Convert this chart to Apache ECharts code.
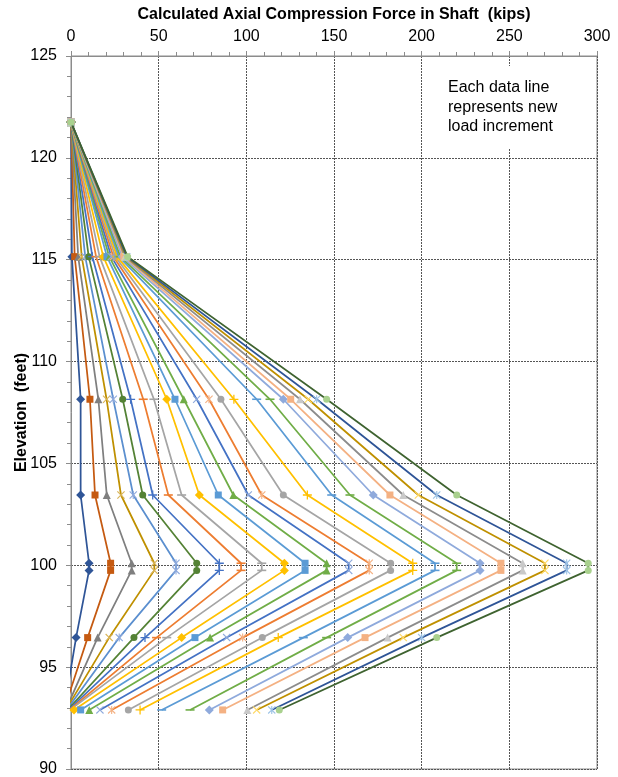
<!DOCTYPE html>
<html>
<head>
<meta charset="utf-8">
<script src="https://cdn.jsdelivr.net/npm/echarts@6/dist/echarts.min.js"></script>
<style>
html,body{margin:0;padding:0;background:#fff;}
#chart{width:618px;height:777px;}
</style>
</head>
<body>
<div id="chart"></div>
<script>
// Elevations (feet) of the data points, top to bottom (two points bracket elev. 100)
const elevations = [121.75, 115.15, 108.15, 103.45, 100.1, 99.75, 96.45, 92.9];

// Axial force (kips) of each load increment (24 series) at each elevation
const forceAt121_75 = [0,0,0,0,0,0,0,0,0,0,0,0,0,0,0,0,0,0,0,0,0,0,0,0];
const forceAt115_15 = [0.5,2.1,4.1,6.1,8.1,10.1,12.2,14.3,16.3,18.4,20.5,21.8,23.0,24.2,25.3,26.3,27.3,28.2,29.2,30.1,30.7,31.3,31.8,32.3];
const forceAt108_15 = [5.5,10.8,15.6,20.3,24.1,29.5,34.0,41.2,47.3,54.6,59.3,64.3,71.7,78.7,85.5,92.9,105.9,113.5,121.1,125.3,130.6,135.3,140.1,145.8];
const forceAt103_45 = [5.5,13.7,20.4,28.5,35.5,40.9,46.6,55.5,63.1,73.2,84.0,92.6,101.1,108.8,121.1,134.8,148.7,159.1,172.4,181.9,189.5,198.1,208.6,220.0];
const forceAt100_1  = [10.3,22.6,34.6,47.5,59.9,71.7,84.6,97.0,108.8,121.7,133.5,145.8,158.4,170.1,182.3,194.9,207.6,220.0,233.3,245.2,257.6,270.3,282.7,295.0];
const forceAt99_75  = [10.3,22.6,34.6,47.5,59.9,71.7,84.6,97.0,108.8,121.7,133.5,145.8,158.4,170.1,182.3,194.9,207.6,220.0,233.3,245.2,257.6,270.3,282.7,295.0];
const forceAt96_45  = [2.9,9.5,15.2,21.8,27.5,35.9,42.2,48.8,54.6,63.1,70.7,79.3,88.8,97.9,109.1,118.2,132.5,145.8,157.8,167.7,180.6,189.5,200.0,208.6];
const forceAt92_9   = [-4.0,-4.0,-3.0,-3.0,-2.5,-2.0,-1.5,-1.0,-0.5,1.7,5.5,10.4,16.5,23.2,32.7,39.4,51.7,67.9,78.9,86.5,100.6,105.9,114.5,118.8];

const forceByElevation = [forceAt121_75, forceAt115_15, forceAt108_15, forceAt103_45, forceAt100_1, forceAt99_75, forceAt96_45, forceAt92_9];

const xTicks = [0, 50, 100, 150, 200, 250, 300];
const yTicks = [90, 95, 100, 105, 110, 115, 120, 125];

const lineColors = ['#2F5597','#C55A11','#7F7F7F','#BF9000','#5B8FCF','#548235',
                    '#4472C4','#ED7D31','#A5A5A5','#FFC000','#5B9BD5','#70AD47',
                    '#4472C4','#ED7D31','#A5A5A5','#FFC000','#5B9BD5','#70AD47',
                    '#8FAADC','#F4B183','#8C8C8C','#BF9000','#2F5597','#3F6330'];
const markerColors = ['#2F5597','#C55A11','#7F7F7F','#D9B45A','#8FAADC','#548235',
                      '#4472C4','#ED7D31','#A5A5A5','#FFC000','#5B9BD5','#70AD47',
                      '#8FAADC','#F4B183','#A5A5A5','#FFC000','#5B9BD5','#70AD47',
                      '#8FAADC','#F4B183','#C9C9C9','#FFD966','#9DC3E6','#A9D18E'];

const X_PATH = 'path://M0,1L1,0L5,4L9,0L10,1L6,5L10,9L9,10L5,6L1,10L0,9L4,5Z';
const STAR_PATH = 'path://M0,1L1,0L5,4L9,0L10,1L6,5L10,9L9,10L5,6L1,10L0,9L4,5Z M4.3,0H5.7V10H4.3Z';
const PLUS_PATH = 'path://M4.3,0H5.7V4.3H10V5.7H5.7V10H4.3V5.7H0V4.3H4.3Z';
const DASH_PATH = 'path://M0,0H10V10H0Z';
const markerCycle = [
  {s:'diamond', size:9},
  {s:'rect', size:7},
  {s:'triangle', size:8},
  {s:X_PATH, size:8},
  {s:STAR_PATH, size:8},
  {s:'circle', size:7},
  {s:PLUS_PATH, size:9},
  {s:DASH_PATH, size:[9,1.6]},
  {s:DASH_PATH, size:[9,1.6]}
];

const series = forceAt100_1.map((_, i) => {
  const m = markerCycle[i % markerCycle.length];
  return {
    type: 'line',
    name: 'Increment ' + (i + 1),
    data: elevations.map((e, j) => [forceByElevation[j][i], e]),
    symbol: m.s,
    symbolSize: m.size,
    showSymbol: true,
    clip: true,
    lineStyle: {color: lineColors[i], width: 1.75},
    itemStyle: {color: markerColors[i], borderWidth: 0},
    emphasis: {disabled: true},
    z: 2 + i * 0.01
  };
});

const FONT = 'Liberation Sans, Arial, sans-serif';
const chart = echarts.init(document.getElementById('chart'), null, {renderer: 'canvas'});
chart.setOption({
  animation: false,
  backgroundColor: '#fff',
  textStyle: {fontFamily: FONT},
  grid: {left: 71, top: 56, width: 526, height: 713, outerBoundsMode: 'none', containLabel: false,
         show: true, borderColor: '#8c8c8c', borderWidth: 1, backgroundColor: 'transparent'},
  xAxis: {
    type: 'value', position: 'top', min: xTicks[0], max: xTicks[xTicks.length - 1], interval: 50,
    name: 'Calculated Axial Compression Force in Shaft  (kips)',
    nameLocation: 'middle', nameGap: 33, nameMoveOverlap: false,
    nameTextStyle: {fontSize: 16, fontWeight: 'bold', color: '#000', fontFamily: FONT},
    axisLine: {show: true, lineStyle: {color: '#8c8c8c', width: 1}},
    axisTick: {show: true, length: 5, lineStyle: {color: '#8c8c8c'}},
    minorTick: {show: true, splitNumber: 5, length: 4, lineStyle: {color: '#8c8c8c'}},
    axisLabel: {fontSize: 16, color: '#000', margin: 11, fontFamily: FONT},
    splitLine: {show: true, lineStyle: {color: '#555', type: [2, 1], width: 1}}
  },
  yAxis: {
    type: 'value', min: yTicks[0], max: yTicks[yTicks.length - 1], interval: 5,
    name: 'Elevation  (feet)',
    nameLocation: 'middle', nameGap: 41, nameRotate: 90, nameMoveOverlap: false,
    nameTextStyle: {fontSize: 16, fontWeight: 'bold', color: '#000', fontFamily: FONT},
    axisLine: {show: true, lineStyle: {color: '#8c8c8c', width: 1}},
    axisTick: {show: true, length: 5, lineStyle: {color: '#8c8c8c'}},
    minorTick: {show: true, splitNumber: 5, length: 4, lineStyle: {color: '#8c8c8c'}},
    axisLabel: {fontSize: 16, color: '#000', margin: 14, fontFamily: FONT},
    splitLine: {show: true, lineStyle: {color: '#555', type: [2, 1], width: 1}}
  },
  graphic: [
    {type: 'rect', left: 441, top: 66, shape: {width: 140, height: 82}, style: {fill: '#fff'}, z: 50},
    {type: 'text', left: 448, top: 78, z: 51,
     style: {text: 'Each data line\nrepresents new\nload increment', fontSize: 16, lineHeight: 19.5, fill: '#000', fontFamily: FONT}}
  ],
  series: series
});
</script>
</body>
</html>
